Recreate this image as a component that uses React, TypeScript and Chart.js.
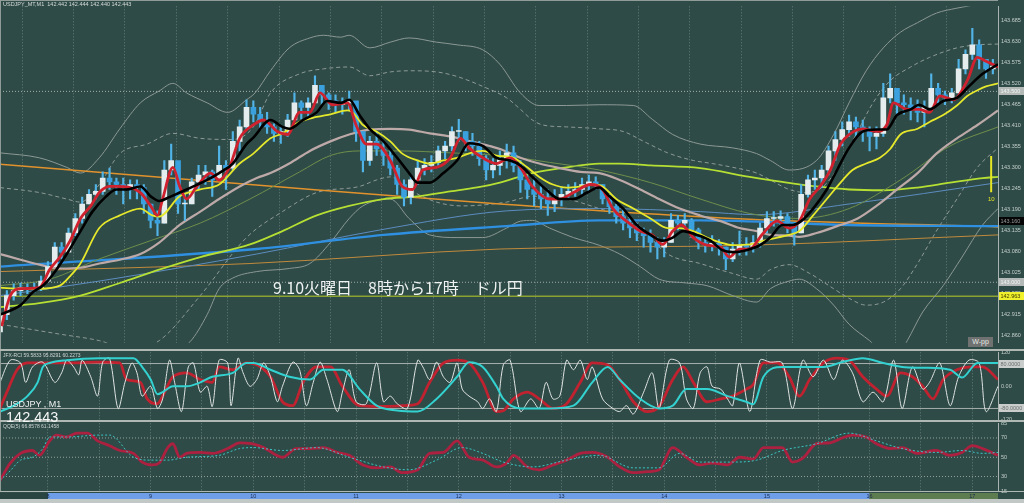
import React, { useEffect, useRef } from 'react';
import { Chart, registerables } from 'chart.js';

Chart.register(...registerables);
Chart.defaults.font.family = '"Liberation Sans", Arial, sans-serif';

type Pair = [number, number];

// ---------------- axes (time = minutes from 08:00) ----------------
const timeMin = -28;
const timeMax = 555;
const gridMinutes = [0, 30, 60, 90, 120, 150, 180, 210, 240, 270, 300, 330, 360, 390, 420, 450, 480, 510, 540];
const hourLabels = ['8', '9', '10', '11', '12', '13', '14', '15', '16', '17'];
const sessionStart = 0;
const sessionSplit = 480;

const priceMin = 142.8416;
const priceMax = 143.7229;
const priceTicks = [142.86, 142.915, 142.97, 143.025, 143.08, 143.135, 143.19, 143.245, 143.3, 143.355, 143.41, 143.465, 143.52, 143.575, 143.63, 143.685];
const oscTicks = [120, 0, -120];
const qqeTicks = [85, 70, 50, 30, 15];

// ---------------- candles (4-minute groups) ----------------
const candleFirstTime = -28;
const candleStep = 4;
const firstOpen = 142.87;
const candleHigh = [
  142.927, 142.978, 142.996, 142.998, 142.996, 142.998, 143.016, 143.054, 143.104, 143.104,
  143.142, 143.18, 143.223, 143.243, 143.256, 143.289, 143.299, 143.273, 143.273, 143.268,
  143.268, 143.256, 143.205, 143.187, 143.319, 143.362, 143.306, 143.23, 143.273, 143.306,
  143.306, 143.294, 143.357, 143.319, 143.395, 143.425, 143.478, 143.475, 143.458, 143.445,
  143.415, 143.407, 143.44, 143.496, 143.475, 143.483, 143.541, 143.516, 143.496, 143.491,
  143.483, 143.501, 143.458, 143.395, 143.382, 143.395, 143.369, 143.344, 143.306, 143.268,
  143.281, 143.319, 143.324, 143.332, 143.357, 143.369, 143.407, 143.427, 143.395, 143.39,
  143.369, 143.332, 143.324, 143.344, 143.362, 143.357, 143.319, 143.281, 143.268, 143.256,
  143.243, 143.243, 143.248, 143.256, 143.261, 143.273, 143.281, 143.276, 143.256, 143.23,
  143.205, 143.193, 143.167, 143.155, 143.142, 143.137, 143.117, 143.117, 143.18, 143.175,
  143.18, 143.167, 143.142, 143.117, 143.122, 143.112, 143.092, 143.104, 143.134, 143.117,
  143.122, 143.155, 143.185, 143.185, 143.187, 143.18, 143.155, 143.256, 143.281, 143.294,
  143.306, 143.357, 143.395, 143.42, 143.438, 143.433, 143.425, 143.407, 143.407, 143.521,
  143.546, 143.501, 143.491, 143.483, 143.478, 143.475, 143.546, 143.521, 143.501, 143.508,
  143.584, 143.609, 143.665, 143.635, 143.584, 143.584,
];
const candleLow = [
  142.859, 142.902, 142.953, 142.965, 142.97, 142.973, 142.978, 143.003, 143.046, 143.061,
  143.092, 143.122, 143.155, 143.205, 143.218, 143.23, 143.243, 143.23, 143.205, 143.218,
  143.218, 143.18, 143.142, 143.122, 143.155, 143.281, 143.18, 143.162, 143.205, 143.243,
  143.256, 143.225, 143.268, 143.243, 143.294, 143.344, 143.4, 143.42, 143.4, 143.39,
  143.369, 143.364, 143.382, 143.433, 143.427, 143.433, 143.47, 143.465, 143.453, 143.445,
  143.44, 143.45, 143.369, 143.289, 143.306, 143.332, 143.306, 143.281, 143.23, 143.2,
  143.205, 143.256, 143.281, 143.289, 143.306, 143.324, 143.344, 143.369, 143.344, 143.332,
  143.306, 143.268, 143.273, 143.281, 143.299, 143.289, 143.235, 143.218, 143.2, 143.193,
  143.175, 143.185, 143.2, 143.218, 143.225, 143.23, 143.238, 143.243, 143.205, 143.18,
  143.155, 143.137, 143.117, 143.109, 143.092, 143.079, 143.061, 143.066, 143.104, 143.137,
  143.142, 143.117, 143.087, 143.079, 143.082, 143.071, 143.033, 143.054, 143.071, 143.071,
  143.079, 143.092, 143.129, 143.147, 143.147, 143.129, 143.097, 143.129, 143.223, 143.243,
  143.248, 143.281, 143.319, 143.357, 143.382, 143.382, 143.369, 143.344, 143.349, 143.382,
  143.47, 143.44, 143.44, 143.425, 143.42, 143.407, 143.458, 143.47, 143.465, 143.47,
  143.496, 143.546, 143.584, 143.559, 143.534, 143.546,
];
const candleClose = [
  142.915, 142.965, 142.978, 142.986, 142.983, 142.986, 143.003, 143.041, 143.092, 143.079,
  143.129, 143.167, 143.205, 143.23, 143.238, 143.273, 143.263, 143.256, 143.248, 143.256,
  143.248, 143.205, 143.162, 143.155, 143.294, 143.319, 143.205, 143.205, 143.263, 143.281,
  143.289, 143.268, 143.306, 143.299, 143.369, 143.407, 143.458, 143.44, 143.425, 143.407,
  143.39, 143.395, 143.425, 143.47, 143.458, 143.47, 143.516, 143.491, 143.475, 143.465,
  143.47, 143.475, 143.395, 143.319, 143.369, 143.349, 143.332, 143.299, 143.256, 143.223,
  143.268, 143.299, 143.306, 143.314, 143.344, 143.357, 143.395, 143.395, 143.369, 143.357,
  143.324, 143.294, 143.306, 143.324, 143.339, 143.306, 143.268, 143.243, 143.23, 143.218,
  143.205, 143.218, 143.23, 143.238, 143.243, 143.256, 143.263, 143.256, 143.218, 143.198,
  143.172, 143.155, 143.142, 143.129, 143.122, 143.104, 143.092, 143.104, 143.162, 143.155,
  143.162, 143.137, 143.104, 143.097, 143.102, 143.092, 143.061, 143.087, 143.097, 143.092,
  143.104, 143.142, 143.167, 143.167, 143.172, 143.155, 143.129, 143.23, 143.268, 143.273,
  143.294, 143.344, 143.374, 143.4, 143.42, 143.407, 143.4, 143.382, 143.39, 143.483,
  143.508, 143.47, 143.465, 143.458, 143.445, 143.458, 143.508, 143.491, 143.483, 143.496,
  143.559, 143.597, 143.622, 143.584, 143.559, 143.566,
];

// ---------------- moving averages [minute, price] ----------------
const redMA: Pair[] = [[-27,142.885],[-22,142.965],[-16,142.983],[-5,142.986],[1,143.033],[7,143.066],[13,143.109],[19,143.167],[25,143.2],[30,143.235],[36,143.251],[40,143.251],[54,143.235],[60,143.2],[64,143.175],[67,143.218],[73,143.301],[77,143.251],[81,143.218],[87,143.251],[95,143.286],[100,143.268],[106,143.301],[112,143.377],[120,143.412],[126,143.425],[134,143.395],[140,143.387],[147,143.445],[153,143.445],[159,143.496],[166,143.465],[175,143.47],[180,143.412],[186,143.362],[192,143.362],[200,143.319],[207,143.251],[213,143.243],[219,143.294],[227,143.301],[235,143.326],[241,143.377],[246,143.352],[254,143.326],[262,143.311],[270,143.326],[276,143.301],[283,143.251],[293,143.218],[299,143.218],[307,143.235],[317,143.256],[324,143.243],[330,143.193],[338,143.16],[346,143.134],[353,143.124],[359,143.099],[365,143.134],[370,143.15],[377,143.117],[385,143.097],[393,143.092],[398,143.066],[404,143.087],[410,143.087],[417,143.124],[426,143.16],[433,143.142],[439,143.16],[445,143.218],[451,143.251],[457,143.294],[463,143.362],[468,143.387],[476,143.402],[484,143.395],[490,143.412],[494,143.47],[502,143.453],[509,143.453],[515,143.445],[521,143.488],[529,143.478],[537,143.528],[543,143.589],[548,143.579],[555,143.564]];
const blackMA: Pair[] = [[-28,142.915],[-16,142.94],[-9,142.973],[-3,142.991],[3,143.021],[11,143.074],[19,143.134],[26,143.185],[34,143.225],[40,143.243],[46,143.243],[54,143.251],[60,143.225],[65,143.213],[71,143.223],[77,143.235],[85,143.251],[93,143.268],[100,143.286],[108,143.311],[116,143.362],[120,143.379],[130,143.425],[137,143.407],[141,143.402],[149,143.425],[157,143.445],[163,143.475],[171,143.47],[176,143.478],[182,143.438],[188,143.402],[196,143.369],[204,143.326],[211,143.286],[216,143.261],[223,143.261],[231,143.286],[239,143.319],[246,143.364],[254,143.357],[262,143.326],[270,143.319],[276,143.306],[283,143.276],[291,143.243],[299,143.218],[307,143.218],[315,143.235],[322,143.248],[328,143.225],[336,143.193],[344,143.15],[352,143.124],[359,143.109],[365,143.117],[371,143.134],[379,143.124],[387,143.109],[394,143.084],[400,143.079],[408,143.084],[416,143.097],[422,143.117],[429,143.15],[435,143.15],[440,143.16],[447,143.193],[455,143.243],[461,143.294],[468,143.352],[476,143.395],[484,143.4],[490,143.4],[496,143.438],[504,143.453],[509,143.465],[515,143.453],[523,143.475],[531,143.483],[538,143.513],[546,143.546],[555,143.571]];
const yellowMA: Pair[] = [[-28,142.986],[-16,142.983],[-5,142.983],[7,142.991],[13,143.016],[19,143.049],[30,143.142],[42,143.175],[54,143.193],[61,143.175],[65,143.172],[77,143.225],[89,143.243],[100,143.256],[112,143.311],[120,143.337],[130,143.377],[137,143.39],[147,143.42],[157,143.433],[165,143.44],[175,143.45],[178,143.445],[184,143.412],[192,143.395],[200,143.369],[207,143.337],[216,143.319],[223,143.311],[231,143.319],[239,143.326],[247,143.339],[254,143.344],[262,143.332],[272,143.326],[280,143.301],[287,143.276],[295,143.256],[303,143.248],[311,143.251],[318,143.256],[324,143.251],[332,143.218],[342,143.193],[352,143.167],[362,143.142],[369,143.142],[377,143.134],[385,143.117],[393,143.104],[400,143.097],[410,143.099],[418,143.109],[426,143.117],[433,143.124],[439,143.134],[447,143.175],[455,143.218],[463,143.261],[470,143.294],[478,143.311],[486,143.326],[492,143.349],[498,143.387],[508,143.402],[515,143.42],[523,143.438],[531,143.463],[537,143.488],[543,143.503],[548,143.513],[555,143.521]];
const pinkMA: Pair[] = [[-28,143.074],[-16,143.059],[-5,143.046],[7,143.036],[19,143.038],[30,143.049],[42,143.059],[54,143.074],[65,143.104],[77,143.15],[89,143.185],[100,143.218],[112,143.251],[122,143.273],[130,143.286],[141,143.311],[153,143.344],[165,143.369],[176,143.387],[188,143.4],[200,143.402],[211,143.4],[223,143.39],[235,143.382],[247,143.369],[258,143.357],[266,143.346],[276,143.326],[287,143.311],[299,143.299],[311,143.289],[322,143.286],[334,143.268],[346,143.243],[357,143.218],[369,143.193],[381,143.175],[393,143.16],[404,143.142],[414,143.134],[422,143.124],[433,143.122],[439,143.119],[449,143.129],[461,143.147],[473,143.167],[484,143.2],[496,143.243],[508,143.286],[519,143.337],[531,143.377],[543,143.412],[555,143.45]];
const greenMA: Pair[] = [[-28,142.991],[1,143.008],[30,143.061],[60,143.109],[89,143.155],[118,143.218],[147,143.289],[165,143.332],[182,143.344],[206,143.344],[235,143.339],[264,143.332],[293,143.314],[322,143.294],[352,143.261],[381,143.218],[410,143.18],[439,143.167],[468,143.193],[498,143.268],[527,143.357],[555,143.407]];
const limeMA: Pair[] = [[-28,142.935],[-5,142.945],[19,142.965],[42,142.998],[65,143.033],[89,143.066],[118,143.099],[137,143.134],[157,143.175],[176,143.2],[196,143.218],[216,143.225],[235,143.238],[254,143.251],[264,143.261],[283,143.286],[303,143.301],[322,143.311],[334,143.311],[352,143.306],[381,143.299],[410,143.276],[429,143.263],[449,143.251],[468,143.243],[488,143.241],[508,143.248],[527,143.261],[546,143.273],[555,143.276]];
const blueMA: Pair[] = [[-28,143.041],[122,143.087],[196,143.124],[268,143.147],[322,143.162],[381,143.162],[468,143.15],[555,143.147]];
const steelMA: Pair[] = [[-28,142.965],[30,143.003],[122,143.074],[194,143.137],[268,143.187],[322,143.193],[381,143.185],[414,143.177],[468,143.205],[555,143.261]];
const orangeUpper: Pair[] = [[-28,143.309],[118,143.256],[264,143.205],[410,143.165],[555,143.145]];
const orangeLower: Pair[] = [[-28,143.028],[118,143.049],[264,143.087],[410,143.097],[555,143.124]];

// ---------------- bands ----------------
const bandUpper: Pair[] = [[-28,143.339],[-5,143.326],[11,143.301],[19,143.286],[30,143.326],[42,143.402],[54,143.47],[65,143.501],[73,143.521],[81,143.496],[93,143.47],[105,143.445],[116,143.478],[121,143.496],[130,143.554],[141,143.614],[153,143.64],[161,143.647],[171,143.642],[176,143.647],[188,143.614],[200,143.629],[211,143.64],[227,143.629],[239,143.622],[254,143.609],[264,143.571],[276,143.496],[287,143.463],[303,143.463],[322,143.465],[342,143.463],[353,143.427],[365,143.387],[381,143.362],[400,143.352],[414,143.337],[422,143.319],[433,143.294],[449,143.319],[459,143.387],[468,143.47],[478,143.554],[488,143.614],[498,143.655],[508,143.68],[519,143.705],[531,143.718],[546,143.73],[555,143.736]];
const bandLower: Pair[] = [[71,142.814],[83,142.844],[93,142.915],[100,142.983],[108,143.011],[122,143.028],[141,143.036],[153,143.049],[165,143.104],[176,143.167],[184,143.2],[200,143.218],[211,143.167],[223,143.124],[239,143.117],[254,143.117],[268,143.142],[276,143.16],[283,143.162],[293,143.142],[307,143.117],[322,143.097],[334,143.074],[346,143.041],[357,143.008],[373,142.998],[385,142.991],[400,142.965],[414,142.948],[422,142.983],[433,143.003],[439,143.008],[449,142.983],[459,142.94],[468,142.89],[480,142.847],[489,142.814],[498,142.819],[502,142.847],[511,142.922],[523,142.991],[534,143.066],[546,143.15],[555,143.193]];
const dashUpper: Pair[] = [[-28,143.248],[-5,143.235],[11,143.218],[19,143.21],[30,143.256],[42,143.337],[58,143.362],[73,143.39],[89,143.377],[108,143.374],[120,143.407],[130,143.496],[147,143.546],[161,143.559],[176,143.564],[188,143.541],[200,143.551],[211,143.554],[227,143.551],[239,143.539],[254,143.513],[268,143.483],[276,143.453],[283,143.425],[289,143.412],[303,143.407],[322,143.402],[336,143.395],[348,143.369],[362,143.339],[377,143.319],[388,143.311],[400,143.301],[414,143.286],[422,143.268],[433,143.243],[443,143.235],[453,143.251],[463,143.311],[473,143.395],[482,143.47],[492,143.528],[504,143.564],[515,143.589],[531,143.614],[543,143.622],[555,143.624]];
const dashLower: Pair[] = [[-28,142.89],[7,142.864],[30,142.847],[48,142.824],[65,142.847],[89,142.965],[116,143.117],[137,143.185],[157,143.235],[182,143.251],[192,143.268],[200,143.276],[211,143.243],[227,143.21],[242,143.2],[268,143.21],[283,143.225],[303,143.218],[322,143.193],[342,143.162],[362,143.074],[381,143.049],[400,143.023],[414,143.008],[422,143.033],[433,143.046],[445,143.023],[459,142.983],[468,142.958],[478,142.94],[488,142.948],[498,142.983],[508,143.049],[519,143.134],[531,143.218],[543,143.301],[555,143.352]];

// horizontal levels and the spread marker
const pivotLevels = [143.5, 143.0];
const supportLevel = 142.963;
const spreadMarker: Pair[] = [[551, 143.331], [551, 143.236]];
const mainTagValues = [143.5, 143.16, 143.0, 142.963];
const mainTagLabels = ['143.500', '143.160', '143.000', '142.963'];

// ---------------- oscillator panel ----------------
const oscWhite: Pair[] = [[-28,13],[-22,92],[-16,82],[-13,13],[-9,68],[-3,85],[4,13],[8,47],[11,92],[15,68],[18,40],[20,92],[25,33],[29,-36],[32,85],[36,99],[41,-80],[45,13],[49,82],[52,47],[55,-36],[60,-1],[64,-80],[67,-46],[71,92],[74,13],[78,-91],[82,68],[85,82],[89,-22],[93,-1],[96,-73],[100,92],[105,82],[107,-70],[111,99],[114,47],[118,-1],[122,23],[126,82],[130,33],[134,-56],[137,-1],[143,85],[147,58],[151,-70],[155,13],[159,85],[163,23],[169,-91],[172,-22],[176,58],[180,-56],[186,-63],[192,82],[196,-56],[200,-36],[204,-63],[210,-80],[216,92],[219,68],[223,23],[227,85],[231,33],[235,13],[239,82],[242,-11],[246,-36],[251,-56],[254,-80],[258,-46],[262,-91],[266,75],[270,92],[276,-91],[282,-46],[287,-80],[291,13],[295,-46],[299,-36],[303,92],[307,58],[311,92],[315,23],[318,68],[324,-46],[330,-80],[334,-91],[338,-70],[342,-100],[348,-22],[353,47],[357,-80],[363,92],[369,82],[373,-46],[377,-80],[381,47],[385,68],[388,-1],[393,-11],[397,-46],[400,-70],[404,82],[410,-91],[416,92],[422,85],[429,82],[435,-80],[441,92],[447,33],[453,92],[459,23],[464,92],[470,47],[476,-56],[482,-22],[488,-56],[494,92],[499,-80],[505,68],[511,-11],[515,13],[521,82],[527,-70],[532,33],[538,92],[544,82],[548,-91],[555,-1]];
const oscRed: Pair[] = [[-28,-80],[-24,-22],[-18,58],[-12,82],[-5,82],[11,82],[30,85],[42,82],[46,23],[54,13],[58,-46],[64,-63],[67,-36],[73,33],[81,47],[89,23],[96,13],[100,68],[108,58],[116,82],[120,80],[130,33],[137,-56],[143,-70],[149,13],[157,68],[165,68],[172,-1],[182,-70],[196,-73],[207,-70],[216,-63],[223,13],[231,82],[239,92],[246,82],[254,13],[262,-91],[266,-88],[272,-46],[280,-22],[287,-46],[295,-80],[303,-63],[311,13],[318,82],[327,75],[334,23],[342,-56],[350,-91],[357,-73],[365,23],[371,68],[377,13],[385,-56],[393,-46],[400,-36],[408,-11],[412,5],[418,82],[426,82],[433,33],[439,-36],[445,23],[453,82],[461,99],[468,92],[476,33],[484,-11],[490,-36],[498,47],[505,33],[511,-1],[517,-46],[523,23],[531,58],[539,68],[546,68],[555,23]];
const oscCyan: Pair[] = [[-28,-91],[-20,-70],[-12,-36],[-6,13],[-3,68],[1,82],[11,92],[30,99],[50,99],[55,68],[60,23],[64,-29],[67,-22],[73,-1],[81,-1],[89,13],[96,33],[108,47],[116,82],[120,82],[130,58],[141,33],[153,23],[161,58],[172,58],[182,-11],[192,-70],[204,-87],[216,-91],[227,-46],[239,33],[246,85],[254,68],[262,-1],[266,-46],[276,-80],[293,-80],[307,-70],[318,13],[327,68],[334,23],[346,-46],[357,-80],[365,-70],[373,-11],[385,-11],[397,-36],[408,-56],[412,-65],[418,33],[429,68],[441,68],[453,68],[464,85],[476,99],[488,82],[499,68],[511,65],[527,58],[534,30],[543,82],[555,82]];
const oscLevels = [80, -80];
const oscTagValues = [80, -80];
const oscTagLabels = ['80.0000', '-80.0000'];

// ---------------- QQE panel ----------------
const qqeRed: Pair[] = [[-28,26],[-22,44],[-16,54],[-9,57],[-5,52],[1,67],[5,73],[11,71],[17,75],[23,75],[29,67],[36,62],[42,57],[50,54],[55,45],[61,42],[65,44],[70,60],[73,64],[77,50],[81,54],[89,55],[96,54],[105,59],[112,65],[119,64],[126,60],[137,50],[145,59],[153,59],[161,60],[169,55],[176,52],[184,42],[192,39],[200,40],[207,34],[216,37],[223,54],[231,55],[239,67],[246,50],[254,47],[262,40],[268,44],[272,52],[280,40],[287,37],[295,42],[303,47],[311,54],[318,55],[327,50],[334,40],[342,34],[350,35],[357,37],[365,60],[373,50],[381,42],[388,44],[397,42],[404,50],[412,48],[418,60],[429,60],[435,45],[441,49],[449,64],[457,65],[464,70],[470,73],[478,71],[484,64],[492,59],[499,60],[508,54],[519,57],[527,52],[534,55],[540,62],[546,59],[555,52]];
const qqeCyan: Pair[] = [[-28,26],[-22,36],[-16,47],[-9,50],[-3,59],[1,71],[11,71],[30,73],[36,73],[50,50],[60,47],[70,47],[81,50],[100,52],[112,59],[120,60],[137,57],[157,60],[176,50],[196,40],[211,37],[227,47],[242,60],[254,54],[266,45],[283,40],[303,47],[322,52],[342,39],[357,39],[369,54],[381,45],[400,45],[414,47],[429,57],[449,64],[468,75],[484,67],[499,59],[519,55],[534,57],[546,54],[555,55]];
const qqeLevels = [70, 50, 30];

// ---------------- styling ----------------
const BG = '#2e4b47';
const AXIS_TXT = '#c6d0cc';
const GRID = 'rgba(175,190,185,0.42)';
const SEP = '#b0b8b4';
const MAIN_TAG_STYLES = [
  { bg: '#b3bab7', fg: '#f2f4f3' },
  { bg: '#050505', fg: '#9c9c9c' },
  { bg: '#b3bab7', fg: '#f2f4f3' },
  { bg: '#f0f02c', fg: '#3a3a00' },
];
const OSC_TAG_STYLES = [
  { bg: '#c9cecc', fg: '#6a6e6c' },
  { bg: '#c9cecc', fg: '#6a6e6c' },
];

const toXY = (pairs: Pair[]) => pairs.map(([x, y]) => ({ x, y }));

const lineDs = (pairs: Pair[], color: string, width: number, extra: any = {}) => ({
  type: 'line',
  data: toXY(pairs),
  borderColor: color,
  borderWidth: width,
  pointRadius: 0,
  fill: false,
  cubicInterpolationMode: 'monotone',
  ...extra,
});

const levelDs = (value: number, color: string, width: number, dash: number[] = []) =>
  lineDs([[timeMin, value], [timeMax, value]], color, width, { borderDash: dash, cubicInterpolationMode: 'default', tension: 0 });

function drawTags(chart: any, values: number[], labels: string[], styles: any[]) {
  const ctx = chart.ctx;
  const ys = chart.scales.y;
  ctx.save();
  ctx.font = '5.5px "Liberation Sans", Arial, sans-serif';
  ctx.textBaseline = 'middle';
  values.forEach((v, i) => {
    const y = Math.round(ys.getPixelForValue(v));
    ctx.fillStyle = styles[i].bg;
    ctx.fillRect(ys.left + 1, y - 4, 25, 8);
    ctx.fillStyle = styles[i].fg;
    ctx.fillText(labels[i], ys.left + 2.5, y + 0.5);
  });
  ctx.restore();
}

const xAxis = (showLabels: boolean) => ({
  type: 'linear',
  min: timeMin,
  max: timeMax,
  bounds: 'data',
  offset: false,
  afterBuildTicks: (s: any) => { s.ticks = gridMinutes.map((v) => ({ value: v })); },
  afterFit: (s: any) => { s.height = showLabels ? 12 : 0; },
  ticks: showLabels
    ? {
        display: true,
        autoSkip: false,
        maxRotation: 0,
        padding: 2.5,
        color: '#1b2b4a',
        font: { size: 5.5 },
        callback: (v: any) => (Number(v) % 60 === 0 ? hourLabels[Number(v) / 60] : ''),
      }
    : { display: false },
  grid: { color: GRID, lineWidth: 1, drawTicks: false },
  border: { display: false, dash: [1, 2] },
});

const yAxis = (min: number, max: number, ticks: number[], fmt: (v: number) => string) => ({
  type: 'linear',
  position: 'right',
  min,
  max,
  bounds: 'data',
  afterBuildTicks: (s: any) => { s.ticks = ticks.map((v) => ({ value: v })); },
  afterFit: (s: any) => { s.width = 26; },
  ticks: { color: AXIS_TXT, font: { size: 5.5 }, padding: 3, autoSkip: false, callback: (v: any) => fmt(Number(v)) },
  grid: { drawOnChartArea: false, drawTicks: false },
  border: { display: true, color: '#a9b3af', width: 1 },
});

const baseOptions = (x: any, y: any, padding: any) => ({
  animation: false,
  responsive: false,
  maintainAspectRatio: false,
  events: [],
  layout: { padding },
  plugins: { legend: { display: false }, tooltip: { enabled: false } },
  scales: { x, y },
});

function mainConfig(): any {
  const opens = candleClose.map((_, i) => (i === 0 ? firstOpen : candleClose[i - 1]));
  const times = candleClose.map((_, i) => candleFirstTime + candleStep * i);
  const wicks = times.map((t, i) => ({ x: t, y: [candleLow[i], candleHigh[i]] }));
  const bodies = times.map((t, i) => ({ x: t, y: [opens[i], candleClose[i]] }));
  const bodyColors = candleClose.map((c, i) => (c >= opens[i] ? '#e4ecee' : '#3aa0de'));
  return {
    type: 'line',
    data: {
      datasets: [
        lineDs(spreadMarker, '#e6e624', 2, { cubicInterpolationMode: 'default' }),
        lineDs(blackMA, '#000000', 2.6),
        lineDs(redMA, '#d0222e', 2.8),
        lineDs(yellowMA, '#e6e82c', 1.8),
        { type: 'bar', data: bodies, backgroundColor: bodyColors, borderWidth: 0, barThickness: 5, grouped: false, minBarLength: 1 },
        { type: 'bar', data: wicks, backgroundColor: '#52b4e6', borderWidth: 0, barThickness: 1.5, grouped: false },
        lineDs(pinkMA, '#bda9a8', 2.2),
        lineDs(greenMA, '#6f8e4c', 1),
        lineDs(limeMA, '#b6df34', 1.8),
        lineDs(blueMA, '#2f8fe0', 2.4),
        lineDs(steelMA, '#5d8cc0', 1),
        lineDs(orangeUpper, '#e2922c', 1.5),
        lineDs(orangeLower, '#c18a3c', 1),
        lineDs(bandUpper, '#8c9894', 1),
        lineDs(bandLower, '#8c9894', 1),
        lineDs(dashUpper, '#8e9a96', 1, { borderDash: [4, 3] }),
        lineDs(dashLower, '#8e9a96', 1, { borderDash: [4, 3] }),
        ...pivotLevels.map((v) => levelDs(v, '#a3adaa', 1, [1, 2])),
        levelDs(supportLevel, '#8ba233', 1.5),
      ],
    },
    options: baseOptions(
      xAxis(false),
      yAxis(priceMin, priceMax, priceTicks, (v) => v.toFixed(3)),
      0,
    ),
    plugins: [{ id: 'mainTags', afterDraw: (c: any) => drawTags(c, mainTagValues, mainTagLabels, MAIN_TAG_STYLES) }],
  };
}

function oscConfig(): any {
  return {
    type: 'line',
    data: {
      datasets: [
        lineDs(oscCyan, '#33d2d0', 2),
        lineDs(oscWhite, '#dfe4e2', 1, { cubicInterpolationMode: 'default', tension: 0.3 }),
        lineDs(oscRed, '#c02230', 2.8),
        ...oscLevels.map((v) => levelDs(v, '#a8b0ad', 1)),
      ],
    },
    options: baseOptions(
      xAxis(false),
      yAxis(-120, 120, oscTicks, (v) => (v === 0 ? '0.00' : String(v))),
      { top: 6, bottom: 5, left: 0, right: 0 },
    ),
    plugins: [{ id: 'oscTags', afterDraw: (c: any) => drawTags(c, oscTagValues, oscTagLabels, OSC_TAG_STYLES) }],
  };
}

function qqeConfig(): any {
  return {
    type: 'line',
    data: {
      datasets: [
        lineDs(qqeCyan, '#3cc6c4', 1, { borderDash: [2, 2] }),
        lineDs(qqeRed, '#ac2040', 2.8),
        ...qqeLevels.map((v) => levelDs(v, '#94a09c', 1, [1, 2])),
      ],
    },
    options: baseOptions(
      xAxis(true),
      yAxis(15, 85.2, qqeTicks, (v) => String(v)),
      { top: 6, bottom: 0, left: 0, right: 0 },
    ),
    plugins: [
      {
        id: 'sessionBand',
        beforeDraw: (chart: any) => {
          const xs = chart.scales.x;
          const ctx = chart.ctx;
          const top = chart.chartArea.bottom + 2;
          const h = 6;
          const a = xs.getPixelForValue(sessionStart);
          const b = xs.getPixelForValue(sessionSplit);
          ctx.save();
          ctx.fillStyle = '#2a4541';
          ctx.fillRect(xs.left, top, a - xs.left, h);
          ctx.fillStyle = '#6e9ee8';
          ctx.fillRect(a, top, b - a, h);
          ctx.fillStyle = '#5d7d51';
          ctx.fillRect(b, top, xs.right - b, h);
          ctx.restore();
        },
      },
    ],
  };
}

const txt = (extra: any): any => ({
  position: 'absolute',
  whiteSpace: 'pre',
  lineHeight: 1,
  fontFamily: '"Liberation Sans", Arial, sans-serif',
  zIndex: 5,
  ...extra,
});

export default function App() {
  const mainRef = useRef<HTMLCanvasElement>(null);
  const oscRef = useRef<HTMLCanvasElement>(null);
  const qqeRef = useRef<HTMLCanvasElement>(null);

  useEffect(() => {
    const charts = [
      new Chart(mainRef.current as HTMLCanvasElement, mainConfig()),
      new Chart(oscRef.current as HTMLCanvasElement, oscConfig()),
      new Chart(qqeRef.current as HTMLCanvasElement, qqeConfig()),
    ];
    return () => charts.forEach((c) => c.destroy());
  }, []);

  return (
    <div style={{ position: 'fixed', left: 0, top: 0, width: 1024, height: 503, background: BG, overflow: 'hidden' }}>
      <canvas ref={mainRef} width={1024} height={349} style={{ position: 'absolute', left: 0, top: 0 }} />
      <canvas ref={oscRef} width={1024} height={80} style={{ position: 'absolute', left: 0, top: 346 }} />
      <canvas ref={qqeRef} width={1024} height={86} style={{ position: 'absolute', left: 0, top: 417 }} />

      <div style={{ position: 'absolute', left: 0, top: 0, width: 998, height: 1, background: '#8f9c98', zIndex: 4 }} />
      <div style={{ position: 'absolute', left: 0, top: 0, width: 1, height: 492, background: '#8f9c98', zIndex: 4 }} />
      <div style={{ position: 'absolute', left: 0, top: 349, width: 1024, height: 2, background: SEP, zIndex: 4 }} />
      <div style={{ position: 'absolute', left: 0, top: 420, width: 1024, height: 2, background: SEP, zIndex: 4 }} />
      <div style={{ position: 'absolute', left: 0, top: 491, width: 1024, height: 1, background: SEP, zIndex: 4 }} />
      <div style={{ position: 'absolute', left: 0, top: 499, width: 1024, height: 4, background: '#c2c8c6', zIndex: 4 }} />

      <div style={txt({ left: 3, top: 2, fontSize: 5.5, color: '#d6dcda' })}>USDJPY_MT,M1  142.442 142.444 142.440 142.443</div>
      <div style={txt({ left: 273, top: 279, fontSize: 16, color: '#eef2f0', fontFamily: '"Noto Sans CJK JP", sans-serif' })}>9.10火曜日　8時から17時　ドル円</div>
      <div style={txt({ left: 968, top: 337, width: 25, height: 10, fontSize: 7, lineHeight: '10px', textAlign: 'center', background: '#6f7270', color: '#e6e8e7' })}>W-pp</div>
      <div style={txt({ left: 988, top: 196, fontSize: 6, color: '#e6e624' })}>10</div>

      <div style={txt({ left: 3, top: 353, fontSize: 5, color: '#cfd6d3' })}>JFX-RCI 59.5833 95.8291 60.2273</div>
      <div style={txt({ left: 6, top: 400, fontSize: 9, color: '#f0f2f1' })}>USDJPY , M1</div>
      <div style={txt({ left: 6, top: 410, fontSize: 14.5, color: '#f4f6f5' })}>142.443</div>
      <div style={txt({ left: 3, top: 424, fontSize: 5, color: '#cfd6d3' })}>QQE(5) 66.8578 61.1458</div>
    </div>
  );
}
